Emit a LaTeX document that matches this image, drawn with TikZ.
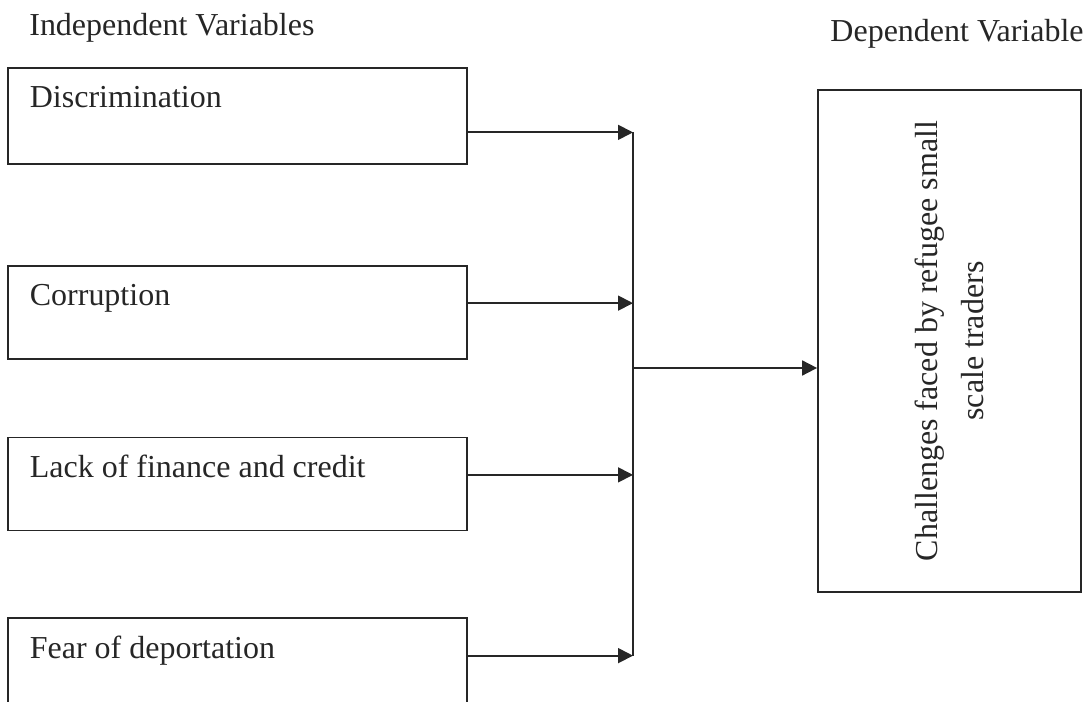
\documentclass[tikz,border=0pt]{standalone}
\usepackage{fontspec}
\setmainfont{Liberation Serif}
\usetikzlibrary{arrows.meta, positioning}

\begin{document}
\begin{tikzpicture}[font=\fontsize{18.2pt}{26.2pt}\selectfont, color=black!85]
		\tikzstyle{VarBox} = [rectangle, draw=black!85, line width=1pt, text width=8.3cm, inner xsep=0.44cm, inner ysep=0pt, text height=0.8cm, text depth=1.06cm, align=flush left]
		\tikzstyle{DepBox} = [rectangle, draw=black!85, line width=1pt, minimum width=10.04cm, minimum height=5.26cm, align=center, rotate=90]
		\tikzstyle{Header} = [anchor=base west, inner sep=0pt]
		\tikzstyle{arrow} = [line width=1pt, -{Triangle[length=0.3cm, width=0.3cm]}]
		
		\useasboundingbox (0,0) rectangle (21.78,-14.04);
		
		\node (disc) [VarBox, anchor=north west, text depth=1.12cm] at (0.14,-1.34) {Discrimination};
		\node (corr) [VarBox, below = 2.0cm of disc] {Corruption};
		\node (lack) [VarBox, below = 1.54cm of corr] {Lack of finance and credit};
		\node (fear) [VarBox, below = 1.72cm of lack] {Fear of deportation};
		
		% rotated box: north east is its top left corner
		\node (dep) [DepBox] at (18.99,-6.82) {Challenges faced by refugee small\\scale traders};
		
		\node (indep) [Header] at ([xshift=0.44cm, yshift=0.62cm]disc.north west) {Independent Variables};
		\node (depvar) [Header] at ([xshift=0.26cm, yshift=0.96cm]dep.north east) {Dependent Variable};
		
		\coordinate (hub) at (12.66,-7.36);
		\coordinate (discIn) at ([yshift=-0.33cm]disc.east -| hub);
		\coordinate (corrIn) at ([yshift=0.18cm]corr.east -| hub);
		\coordinate (lackIn) at ([yshift=0.18cm]lack.east -| hub);
		\coordinate (fearIn) at ([yshift=0.18cm]fear.east -| hub);
		
		\draw[arrow] ([yshift=-0.33cm]disc.east) -- (discIn);
		\draw[arrow] ([yshift=0.18cm]corr.east) -- (corrIn);
		\draw[arrow] ([yshift=0.18cm]lack.east) -- (lackIn);
		\draw[arrow] ([yshift=0.18cm]fear.east) -- (fearIn);
		\draw[line width=1pt] (discIn) -- (fearIn);
		\draw[arrow] (hub) -- (hub -| dep.north);
\end{tikzpicture}
\end{document}
